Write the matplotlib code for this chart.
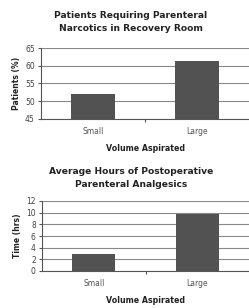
import matplotlib
matplotlib.use("Agg")
import matplotlib.pyplot as plt

categories = ["Small", "Large"]
narcotics_pct = [52.0, 61.3]
analgesic_hrs = [3.0, 9.8]
top_title = "Patients Requiring Parenteral\nNarcotics in Recovery Room"
bot_title = "Average Hours of Postoperative\nParenteral Analgesics"
top_ylabel = "Patients (%)"
bot_ylabel = "Time (hrs)"
xlabel = "Volume Aspirated"
top_yticks = [45, 50, 55, 60, 65]
bot_yticks = [0, 2, 4, 6, 8, 10, 12]

W, H = 249, 308
fig = plt.figure(figsize=(W/100, H/100), dpi=100)
fig.patch.set_facecolor("white")

def panel(rect, vals, yticks, ylabel, title, title_y1):
    ax = fig.add_axes(rect)
    x = list(range(len(categories)))
    ax.set_xlim(-0.5, 1.5)
    ax.set_ylim(yticks[0], yticks[-1])
    ax.set_yticks(yticks)
    ax.set_yticklabels([str(t) for t in yticks], fontsize=5.5, color="#444444")
    ax.set_xticks([0.5])
    ax.set_xticklabels([""])
    for xi, c in zip(x, categories):
        ax.text(xi, -0.18, c, transform=ax.get_xaxis_transform(), ha="center", va="center",
                fontsize=5.5, color="#555555")
    ax.text(0.5, -0.42, xlabel, transform=ax.get_xaxis_transform(), ha="center", va="center",
            fontsize=5.7, fontweight="bold", color="#222222")
    ax.set_ylabel(ylabel, fontsize=5.5, fontweight="bold", color="#222222", labelpad=3)
    ax.yaxis.grid(True, color="#888888", linewidth=0.8, zorder=0)
    for s in ["top", "right"]:
        ax.spines[s].set_visible(False)
    ax.spines["left"].set_color("#555555")
    ax.spines["bottom"].set_color("#555555")
    ax.tick_params(axis="both", length=2.5, width=0.8, color="#555555", pad=2)
    ax.bar(x, [v - yticks[0] for v in vals], width=0.42, bottom=yticks[0], color="#525252", zorder=3)
    fig.text(0.5 + 0.025, title_y1, title, ha="center", va="center", fontsize=6.6,
             fontweight="bold", color="#222222", linespacing=1.55)
    return ax

# top panel: axes x 41..249, y 48..119
panel([41/W, 1 - 119/H, (W-41)/W, 71/H], narcotics_pct, top_yticks, top_ylabel, top_title, 1 - 22/H)
# bottom panel: axes x 42..249, y 201..271
panel([42/W, 1 - 271/H, (W-42)/W, 70/H], analgesic_hrs, bot_yticks, bot_ylabel, bot_title, 1 - 178/H)

fig.savefig("out.png", dpi=100)
